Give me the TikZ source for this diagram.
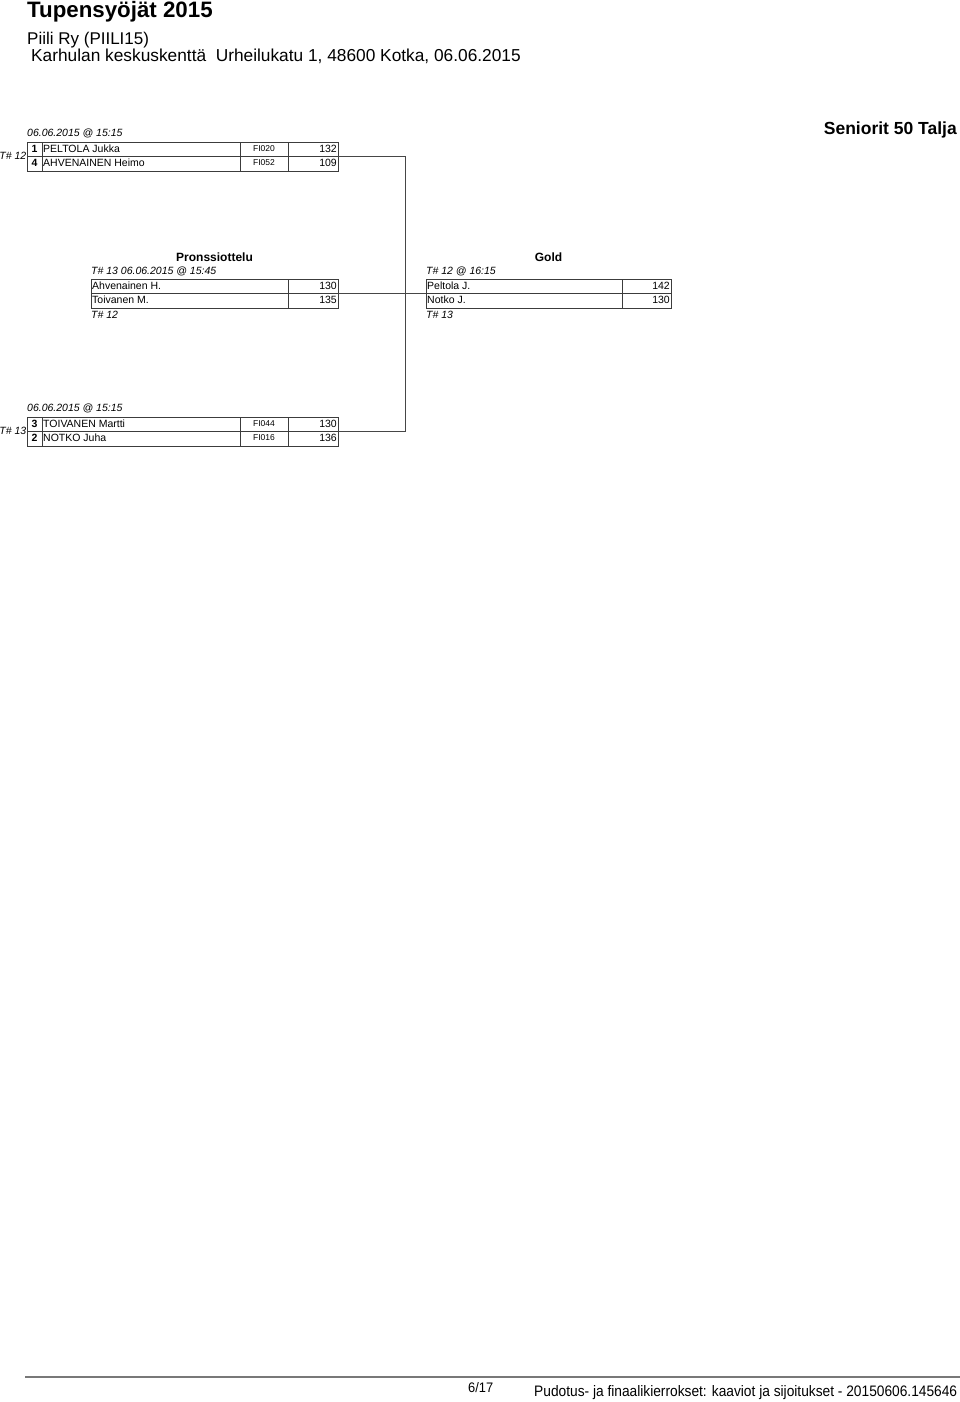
\documentclass[tikz,border=0pt]{standalone}
\usepackage{fontspec}
\setmainfont{Liberation Sans}
\usepackage{graphicx}
\usetikzlibrary{positioning}
\definecolor{rulegray}{RGB}{60,60,60}
\definecolor{linkgray}{RGB}{70,70,70}
\definecolor{footgray}{RGB}{120,120,120}
\newcommand\fsize[1]{\fontsize{#1}{#1}\selectfont}

\begin{document}
\begin{tikzpicture}[
  x=1pt,y=-1pt,
  row/.style={rectangle,draw=rulegray,line width=0.8pt,minimum width=#1,
    minimum height=14.5pt,inner sep=0pt,outer sep=0pt,anchor=north west},
  cell/.style={inner sep=0pt,text height=7.5pt,text depth=2pt,font=\fsize{10.5}},
  club/.style={inner sep=0pt,text height=6pt,text depth=1.7pt,font=\fsize{8.5}},
  seed/.style={cell,font=\fsize{10.5}\bfseries},
  info/.style={cell,font=\fsize{10.5}\itshape},
  head/.style={inner sep=0pt,text height=8.6pt,text depth=2.4pt,font=\fsize{12}\bfseries},
  grid/.style={draw=rulegray,line width=0.8pt},
  link/.style={draw=linkgray,line width=1.2pt}
]
  \useasboundingbox (0,0) rectangle (960,1402);

  \node[font=\fsize{22.3}\bfseries,anchor=base west,inner sep=0pt] (title) at (27,18) {Tupensyöjät 2015};
  \node[font=\fsize{17},anchor=base west,inner sep=0pt] (host) at (27,45) {Piili Ry (PIILI15)};
  \node[font=\fsize{17.3},anchor=base west,inner sep=0pt] (venue) at (31,62)
    {Karhulan keskuskenttä\ \ Urheilukatu 1, 48600 Kotka, 06.06.2015};
  \node[font=\fsize{17.5}\bfseries,anchor=base east,inner sep=0pt] (class) at (957,135) {Seniorit 50 Talja};

  \node[row=311pt] (a1) at (27,142) {};
  \node[row=311pt] (a2) at (27,156.5) {};
  \draw[grid] ([xshift=15pt]a1.north west) -- ([xshift=15pt]a2.south west);
  \draw[grid] ([xshift=213pt]a1.north west) -- ([xshift=213pt]a2.south west);
  \draw[grid] ([xshift=261pt]a1.north west) -- ([xshift=261pt]a2.south west);
  \node[seed] (a1s) at ([xshift=7.5pt]a1.west) {1};
  \node[cell,anchor=west] (a1n) at ([xshift=16pt]a1.west) {PELTOLA Jukka};
  \node[club] (a1c) at ([xshift=237pt]a1.west) {FI020};
  \node[cell,anchor=east] (a1p) at ([xshift=-1pt]a1.east) {132};
  \node[seed] (a2s) at ([xshift=7.5pt]a2.west) {4};
  \node[cell,anchor=west] (a2n) at ([xshift=16pt]a2.west) {AHVENAINEN Heimo};
  \node[club] (a2c) at ([xshift=237pt]a2.west) {FI052};
  \node[cell,anchor=east] (a2p) at ([xshift=-1pt]a2.east) {109};
  \node[info,above right=3pt and 0pt of a1.north west] (a0) {06.06.2015 @ 15:15};
  \node[info,left=0.5pt of a1.south west] (at) {T\# 12};

  \node[row=311pt] (c1) at (27,417) {};
  \node[row=311pt] (c2) at (27,431.5) {};
  \draw[grid] ([xshift=15pt]c1.north west) -- ([xshift=15pt]c2.south west);
  \draw[grid] ([xshift=213pt]c1.north west) -- ([xshift=213pt]c2.south west);
  \draw[grid] ([xshift=261pt]c1.north west) -- ([xshift=261pt]c2.south west);
  \node[seed] (c1s) at ([xshift=7.5pt]c1.west) {3};
  \node[cell,anchor=west] (c1n) at ([xshift=16pt]c1.west) {TOIVANEN Martti};
  \node[club] (c1c) at ([xshift=237pt]c1.west) {FI044};
  \node[cell,anchor=east] (c1p) at ([xshift=-1pt]c1.east) {130};
  \node[seed] (c2s) at ([xshift=7.5pt]c2.west) {2};
  \node[cell,anchor=west] (c2n) at ([xshift=16pt]c2.west) {NOTKO Juha};
  \node[club] (c2c) at ([xshift=237pt]c2.west) {FI016};
  \node[cell,anchor=east] (c2p) at ([xshift=-1pt]c2.east) {136};
  \node[info,above right=3pt and 0pt of c1.north west] (c0) {06.06.2015 @ 15:15};
  \node[info,left=0.5pt of c1.south west] (ct) {T\# 13};

  \node[row=247pt] (p1) at (91,279) {};
  \node[row=247pt] (p2) at (91,293.5) {};
  \draw[grid] ([xshift=197pt]p1.north west) -- ([xshift=197pt]p2.south west);
  \node[cell,anchor=west] (p1n) at ([xshift=1pt]p1.west) {Ahvenainen H.};
  \node[cell,anchor=east] (p1p) at ([xshift=-1pt]p1.east) {130};
  \node[cell,anchor=west] (p2n) at ([xshift=1pt]p2.west) {Toivanen M.};
  \node[cell,anchor=east] (p2p) at ([xshift=-1pt]p2.east) {135};
  \node[head,above=15pt of p1.north] (ph) {Pronssiottelu};
  \node[info,above right=2pt and 0pt of p1.north west] (p0) {T\# 13 06.06.2015 @ 15:45};
  \node[info,below right=3pt and 0pt of p2.south west] (p3) {T\# 12};

  \node[row=245pt] (g1) at (426,279) {};
  \node[row=245pt] (g2) at (426,293.5) {};
  \draw[grid] ([xshift=196pt]g1.north west) -- ([xshift=196pt]g2.south west);
  \node[cell,anchor=west] (g1n) at ([xshift=1pt]g1.west) {Peltola J.};
  \node[cell,anchor=east] (g1p) at ([xshift=-1pt]g1.east) {142};
  \node[cell,anchor=west] (g2n) at ([xshift=1pt]g2.west) {Notko J.};
  \node[cell,anchor=east] (g2p) at ([xshift=-1pt]g2.east) {130};
  \node[head,above=15pt of g1.north] (gh) {Gold};
  \node[info,above right=2pt and 0pt of g1.north west] (g0) {T\# 12 @ 16:15};
  \node[info,below right=3pt and 0pt of g2.south west] (g3) {T\# 13};

  \coordinate (fork) at (405.5,293.5);
  \draw[link] (a1.south east) -| (fork) |- (c1.south east);
  \draw[link] (p1.south east) -- (g1.south west);

  \draw[draw=footgray,line width=1.2pt] (25,1377) -- (960,1377);
  \node[anchor=base west,inner sep=0pt] (page) at (468,1392)
    {\resizebox{25pt}{10pt}{\fsize{14}6/17}};
  \node[anchor=base west,inner sep=0pt] (stamp) at (534,1396)
    {\resizebox{423pt}{11pt}{\fsize{14}Pudotus- ja finaalikierrokset: kaaviot ja sijoitukset - 20150606.145646}};
\end{tikzpicture}
\end{document}
